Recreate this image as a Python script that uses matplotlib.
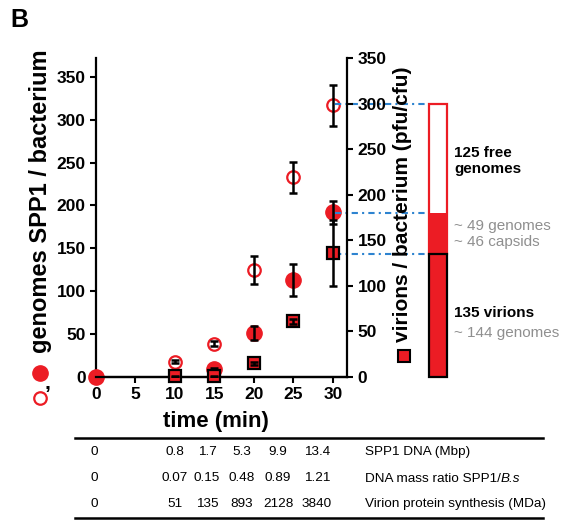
import matplotlib
matplotlib.use("Agg")
import matplotlib.pyplot as plt
from matplotlib.lines import Line2D

plt.rcParams['font.family'] = ['Liberation Sans', 'DejaVu Sans']

RED = "#ec1c24"
BLUE = "#2d83d0"
GRAY = "#8f8f8f"

# genomes per bacterium (left axis)
t_open = [0, 10, 15, 20, 25, 30]
open_y = [0, 18, 39, 125, 233, 317]
open_err = [0, 2, 3, 16, 18, 24]

t_filled = [0, 15, 20, 25, 30]
filled_y = [0, 9, 51, 113, 192]
filled_err = [0, 2, 8, 19, 13]

# virions per bacterium (right axis)
t_sq = [10, 15, 20, 25, 30]
sq_y = [1, 1, 15, 61, 136]
sq_err = [0.5, 0.5, 2, 3, 36]

# stacked bar at 30 min (right axis)
bar_virions = 135
bar_capsids = 45
bar_free = 120
bar_x = 43.3

# table under the plot
table_rows = [
    ["0", "0.8", "1.7", "5.3", "9.9", "13.4"],
    ["0", "0.07", "0.15", "0.48", "0.89", "1.21"],
    ["0", "51", "135", "893", "2128", "3840"],
]
table_labels = ["SPP1 DNA (Mbp)", "DNA mass ratio SPP1/",
                "Virion protein synthesis (MDa)"]
table_italic = ["", "B.s", ""]

W, H = 564, 521


def fx(x):
    return x / W


def fy(y):
    return 1 - y / H


fig = plt.figure(figsize=(W / 100, H / 100), dpi=100)
ax = fig.add_axes([fx(96), fy(377), fx(347) - fx(96), fy(58) - fy(377)])
ax2 = ax.twinx()

ax.set_xlim(0, 31.8)
ax.set_ylim(0, 372)
ax2.set_ylim(0, 350)

for a in (ax, ax2):
    a.spines['top'].set_visible(False)
    for s in a.spines.values():
        s.set_linewidth(1.6)
    a.tick_params(width=1.5, length=4, labelsize=12.5)
ax2.spines['left'].set_visible(False)
ax.spines['right'].set_visible(False)

ax.set_xticks([0, 5, 10, 15, 20, 25, 30])
ax.set_yticks(range(0, 351, 50))
ax2.set_yticks(range(0, 351, 50))
for lab in ax.get_xticklabels() + ax.get_yticklabels() + ax2.get_yticklabels():
    lab.set_fontweight('bold')

# open circles and filled circles
ax.plot(t_open, open_y, 'o', ms=9, mfc='white', mec=RED, mew=1.6,
        ls='none', clip_on=False, zorder=3)
ax.plot(t_filled, filled_y, 'o', ms=11, color=RED, ls='none',
        clip_on=False, zorder=4)
ax.errorbar(t_open, open_y, yerr=open_err, fmt='none', ecolor='black',
            elinewidth=1.8, capsize=3, capthick=1.8, zorder=5)
ax.errorbar(t_filled, filled_y, yerr=filled_err, fmt='none', ecolor='black',
            elinewidth=1.8, capsize=3, capthick=1.8, zorder=5)

# squares
ax2.plot(t_sq, sq_y, 's', ms=9, mfc=RED, mec='black', mew=1.6,
         ls='none', clip_on=False, zorder=3)
ax2.errorbar(t_sq, sq_y, yerr=sq_err, fmt='none', ecolor='black',
             elinewidth=1.8, capsize=3, capthick=1.8, zorder=5)

# stacked bar
top = bar_virions + bar_capsids + bar_free
ax2.bar(bar_x, bar_capsids + bar_free, width=2.3, bottom=bar_virions,
        color='white', edgecolor=RED, lw=1.6, clip_on=False, zorder=2)
ax2.bar(bar_x, bar_capsids, width=2.3, bottom=bar_virions, color=RED,
        lw=0, clip_on=False, zorder=2)
ax2.bar(bar_x, bar_virions, width=2.3, color=RED, edgecolor='black',
        lw=1.6, clip_on=False, zorder=3)

for lev in [top, bar_virions + bar_capsids, bar_virions]:
    ax2.plot([30.3, bar_x - 1.15], [lev, lev], color=BLUE, lw=1.5,
             ls=(0, (3, 2, 1, 2)), clip_on=False, zorder=1)

# axis labels
fig.text(fx(216), fy(421), "time (min)", ha='center', va='center',
         fontsize=16, fontweight='bold')
fig.text(fx(41), fy(201), "genomes SPP1 / bacterium", rotation=90,
         ha='center', va='center', fontsize=17, fontweight='bold')
fig.text(fx(47), fy(384), ",", ha='center', va='center', fontsize=15,
         fontweight='bold')
fig.add_artist(Line2D([fx(40)], [fy(373)], marker='o', ms=11, color=RED,
                      transform=fig.transFigure))
fig.add_artist(Line2D([fx(40)], [fy(398)], marker='o', ms=9, mfc='white',
                      mec=RED, mew=1.6, transform=fig.transFigure))
fig.text(fx(403), fy(204), "virions / bacterium (pfu/cfu)", rotation=90,
         ha='center', va='center', fontsize=15, fontweight='bold')
fig.add_artist(Line2D([fx(404)], [fy(356)], marker='s', ms=8, mfc=RED,
                      mec='black', mew=1.5, transform=fig.transFigure))

# bar annotations
fig.text(fx(454), fy(161), "125 free\ngenomes", ha='left', va='center',
         fontsize=11, fontweight='bold', linespacing=1.2)
fig.text(fx(454), fy(234), "~ 49 genomes\n~ 46 capsids", ha='left',
         va='center', fontsize=11, color=GRAY, linespacing=1.2)
fig.text(fx(454), fy(313), "135 virions", ha='left', va='center',
         fontsize=11, fontweight='bold')
fig.text(fx(454), fy(333), "~ 144 genomes", ha='left', va='center',
         fontsize=11, color=GRAY)

fig.text(fx(10), fy(20), "B", ha='left', va='center', fontsize=18,
         fontweight='bold')

# table
col_x = [94, 175, 207, 242, 278, 317]
row_y = [452, 478, 504]
for vals, lab, ital, yy in zip(table_rows, table_labels, table_italic, row_y):
    for v, xx in zip(vals, col_x):
        fig.text(fx(xx), fy(yy), v, ha='center', va='center', fontsize=9.7)
    t1 = fig.text(fx(365), fy(yy + 3.5), lab, ha='left', va='baseline',
                  fontsize=9.7)
    if ital:
        # italic species name right after the label
        ax.annotate(ital, xy=(1, 0), xycoords=t1, ha='left', va='bottom',
                    fontsize=9.7, style='italic', annotation_clip=False)

for yy in (438, 518):
    fig.add_artist(Line2D([fx(75), fx(543)], [fy(yy), fy(yy)], color='black',
                          lw=1.8, transform=fig.transFigure))

fig.savefig("out.png", dpi=100)
